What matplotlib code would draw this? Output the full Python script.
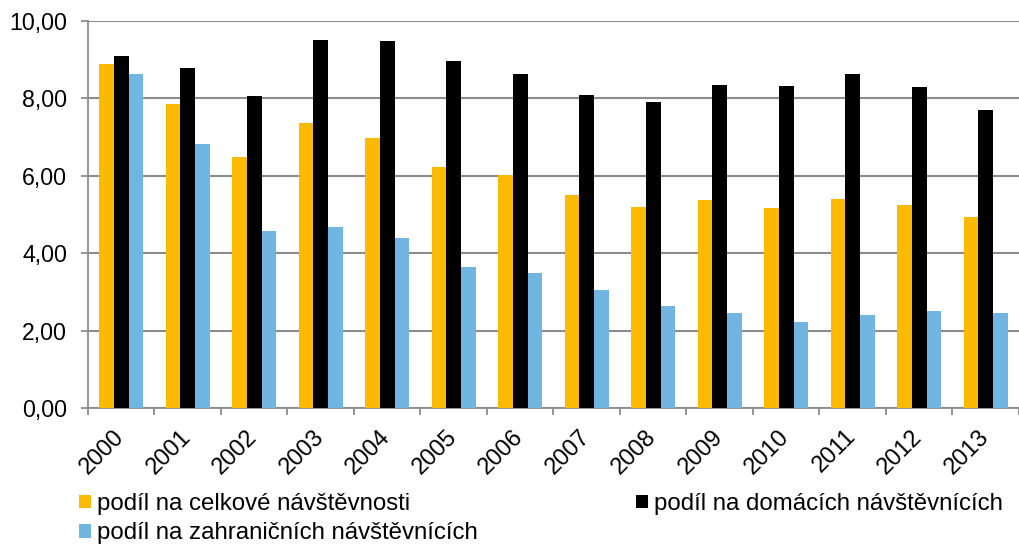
import numpy as np
import matplotlib
matplotlib.use('Agg')
import matplotlib.pyplot as plt
import matplotlib.transforms as mtransforms
from matplotlib.ticker import FuncFormatter, FixedLocator

years = ['2000', '2001', '2002', '2003', '2004', '2005', '2006',
         '2007', '2008', '2009', '2010', '2011', '2012', '2013']
celkove = [8.88, 7.85, 6.48, 7.35, 6.97, 6.23, 6.02, 5.50, 5.19, 5.38, 5.17, 5.39, 5.25, 4.94]
domaci = [9.10, 8.77, 8.05, 9.50, 9.49, 8.95, 8.64, 8.09, 7.90, 8.35, 8.31, 8.64, 8.29, 7.71]
zahranicni = [8.63, 6.81, 4.58, 4.69, 4.40, 3.64, 3.48, 3.05, 2.64, 2.45, 2.24, 2.40, 2.51, 2.45]
labels = ['podíl na celkové návštěvnosti', 'podíl na domácích návštěvnících',
          'podíl na zahraničních návštěvnících']

plt.rcParams['font.family'] = ['Liberation Sans', 'DejaVu Sans']

fig = plt.figure(figsize=(10.2, 5.45), dpi=100)
ax = fig.add_axes([88 / 1020, 1 - 408.3 / 545, 1 - 88 / 1020 - 0.001, (408.3 - 20.8) / 545])

x = np.arange(len(years))
w = 0.222
b1 = ax.bar(x - w, celkove, w, color='#fbb900', label=labels[0], zorder=3)
b2 = ax.bar(x, domaci, w, color='#000000', label=labels[1], zorder=3)
b3 = ax.bar(x + w, zahranicni, w, color='#71b5e2', label=labels[2], zorder=3)

ax.set_xlim(-0.5, len(years) - 0.5)
ax.set_ylim(0, 10)
ax.set_yticks(np.arange(0, 10.01, 2))
ax.yaxis.set_major_formatter(FuncFormatter(lambda v, p: f'{v:.2f}'.replace('.', ',')))
ax.yaxis.grid(True, color='#8c8c8c', linewidth=1.5, zorder=0)

ax.set_xticks(x)
ax.set_xticklabels(years, rotation=45, ha='right', va='center', rotation_mode='anchor')
shift = mtransforms.ScaledTranslation(3 / 100, -5 / 100, fig.dpi_scale_trans)
for lab in ax.get_xticklabels():
    lab.set_transform(lab.get_transform() + shift)
ax.xaxis.set_minor_locator(FixedLocator(np.arange(-0.5, len(years), 1)))
ax.tick_params(axis='x', which='major', length=0, labelsize=17, pad=18)
ax.tick_params(axis='x', which='minor', length=5, color='#8c8c8c', width=1.3)
ax.tick_params(axis='y', length=5, color='#8c8c8c', width=1.3, labelsize=16.7, pad=10)

for s in ['top', 'right']:
    ax.spines[s].set_visible(False)
for s in ['left', 'bottom']:
    ax.spines[s].set_color('#8c8c8c')
    ax.spines[s].set_linewidth(1.3)

fig.legend([b1, b3, b2], [labels[0], labels[2], labels[1]], ncol=2,
           loc='upper left', bbox_to_anchor=(79 / 1020, 1 - 493 / 545),
           frameon=False, fontsize=17.3, handlelength=0.5, handleheight=0.5,
           handletextpad=0.25, columnspacing=6.6, labelspacing=0.3,
           borderpad=0, borderaxespad=0)

fig.savefig('out.png', dpi=100)
